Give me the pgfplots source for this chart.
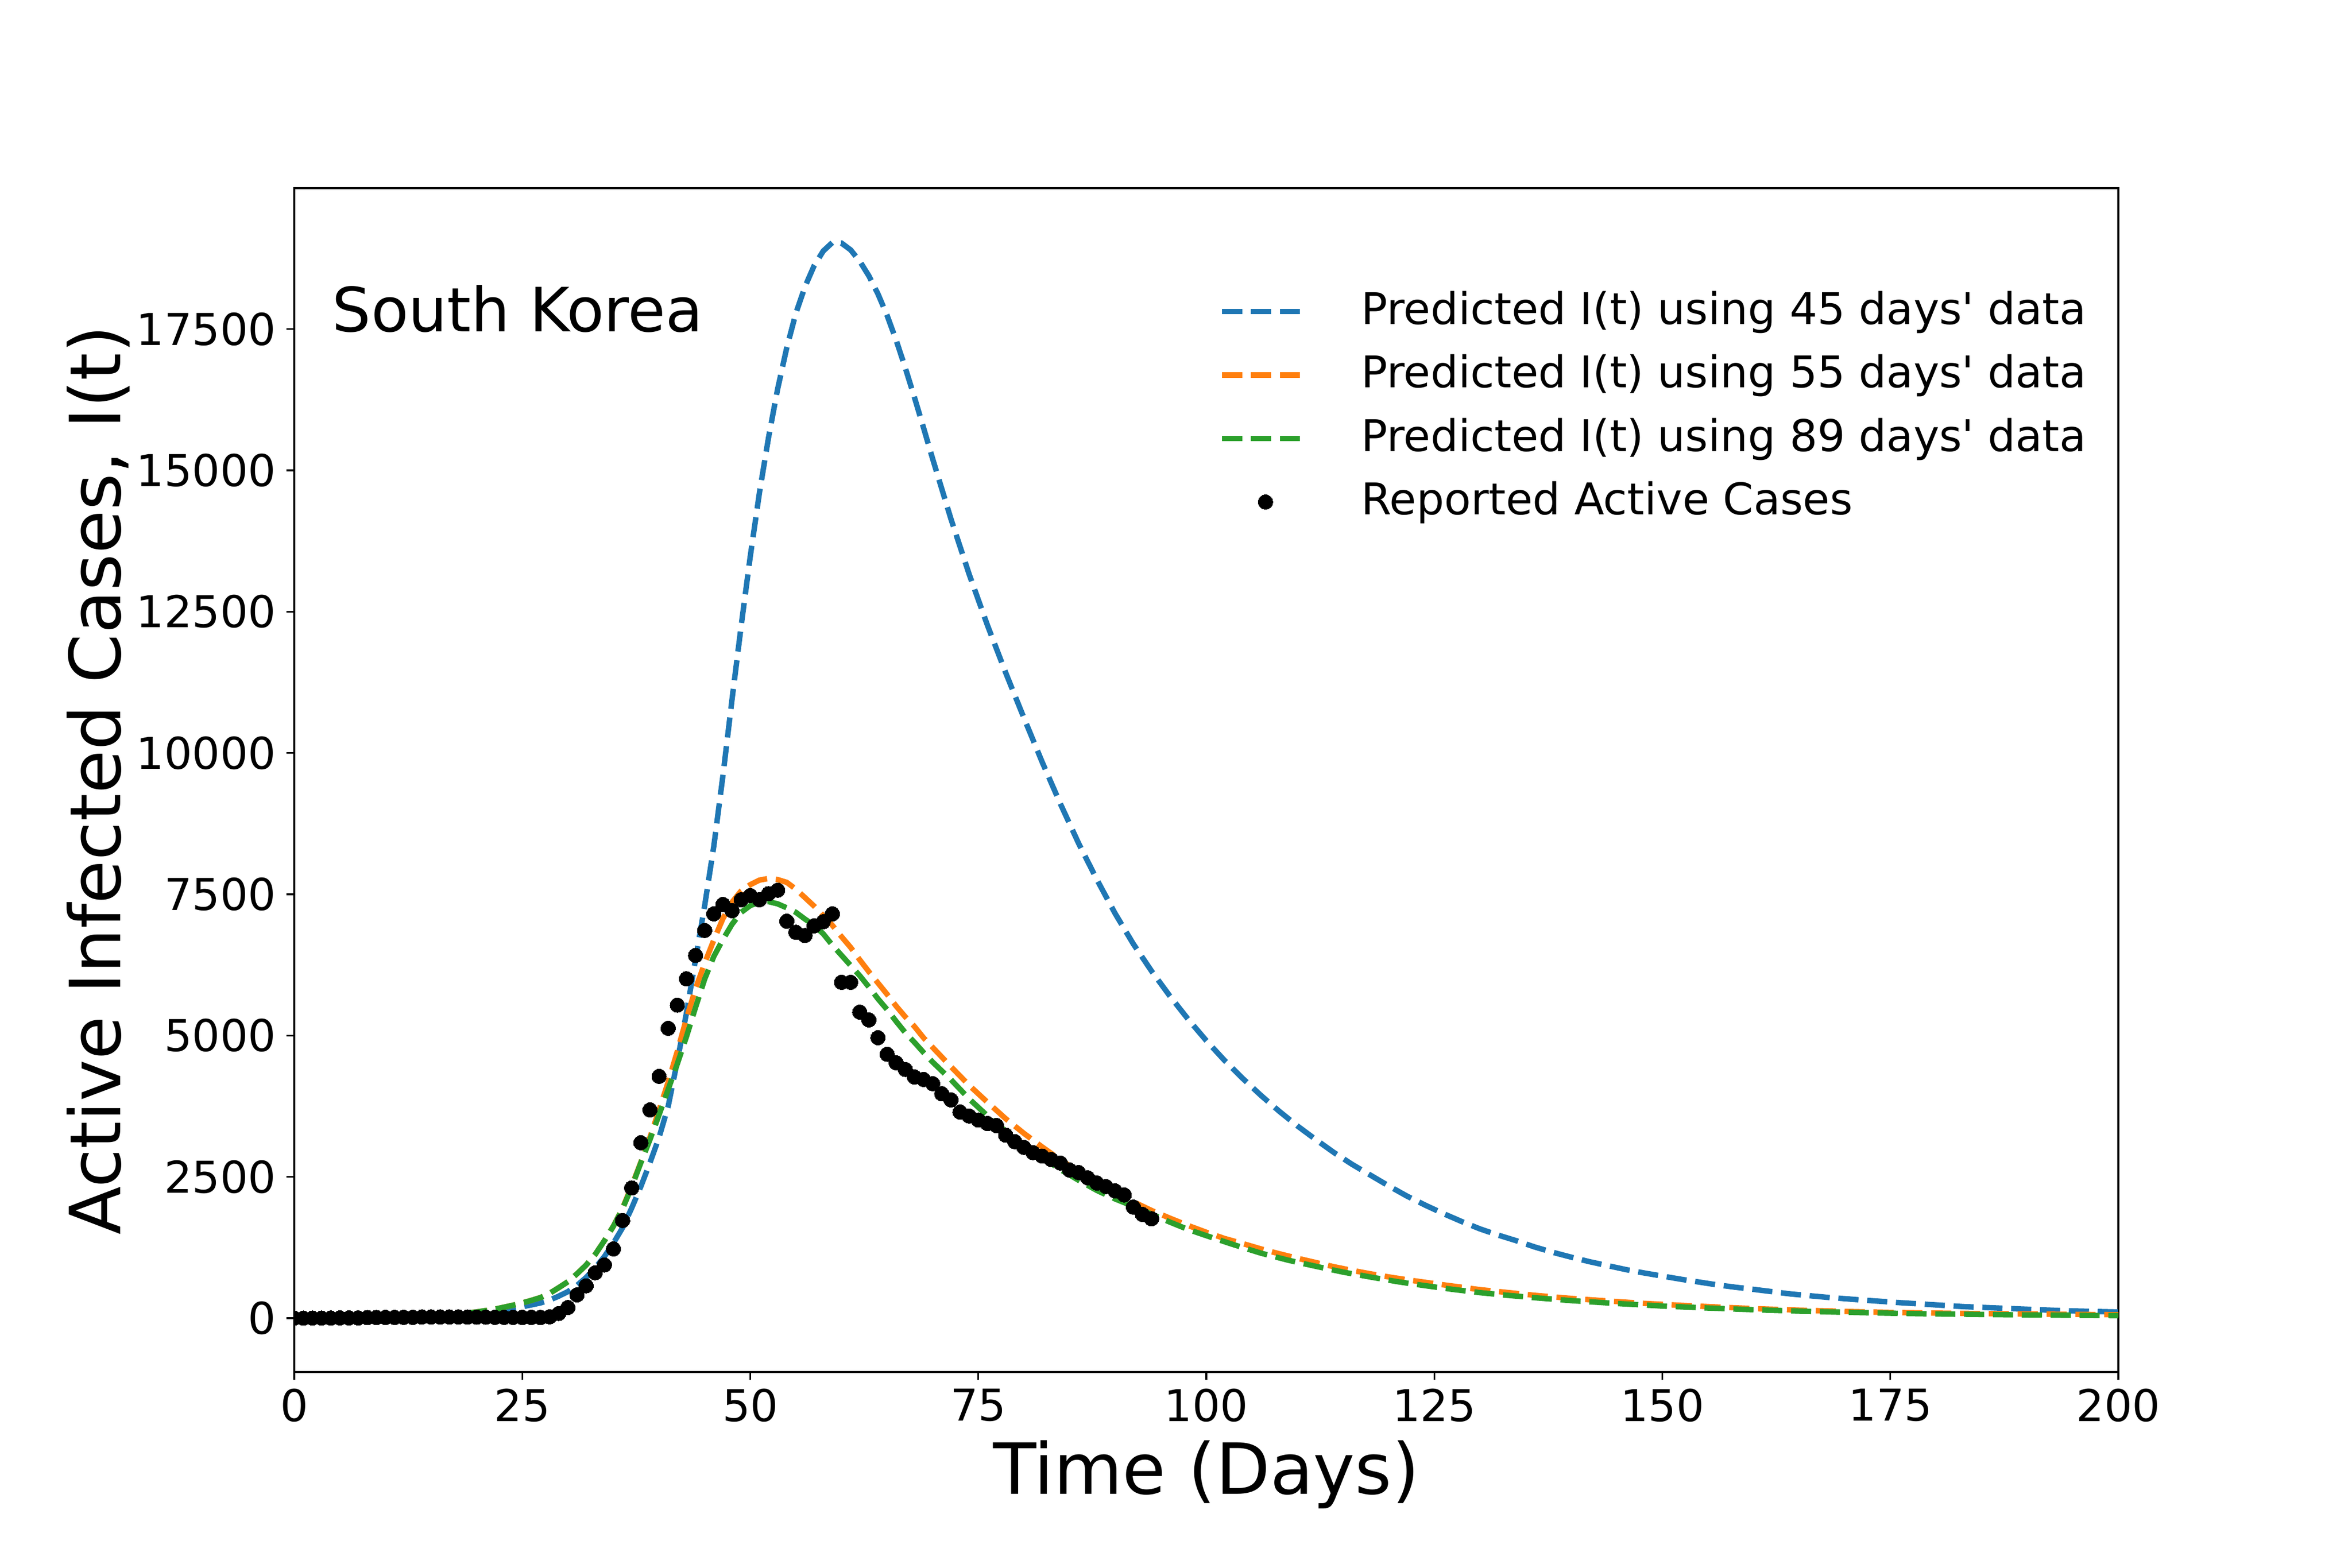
\documentclass[border=0pt]{standalone}
\usepackage{fontspec}
\setmainfont{DejaVu Sans}
\usepackage{pgfplots}
\pgfplotsset{compat=1.18}
\definecolor{c0}{HTML}{1F77B4}
\definecolor{c1}{HTML}{FF7F0E}
\definecolor{c2}{HTML}{2CA02C}

\pgfplotsset{
  legend image code/.code={\draw[#1] (0pt,0pt) -- (14.9pt,0pt);},
  dotlegend/.style={legend image code/.code={\draw[##1, mark repeat=2, mark phase=2] plot coordinates {(0pt,0pt) (8.3pt,0pt) (14.9pt,0pt)};}},
}

\pgfplotstableread{
x y
0 2
5 5
10 12
15 30
20 80
22 120
24 175
25 203
26 235
27 270
28 320
29 390
30 470
31 580
32 720
33 890
34 1090
35 1330
36 1600
37 1950
38 2330
39 2750
40 3200
41 3750
42 4550
43 5400
44 6350
45 7300
46 8350
47 9600
48 10950
49 12250
50 13480
51 14600
52 15580
53 16440
54 17170
55 17780
56 18250
57 18620
58 18880
59 19030
60 19020
61 18900
62 18700
63 18440
64 18120
65 17740
66 17300
67 16810
68 16290
69 15750
70 15200
71 14670
72 14140
73 13650
74 13160
75 12710
76 12260
78 11420
80 10620
82 9840
84 9100
86 8400
88 7760
90 7160
92 6620
94 6140
96 5700
98 5290
100 4910
102 4560
104 4240
106 3940
108 3660
110 3400
112 3160
114 2930
116 2720
118 2530
120 2340
122 2160
124 2000
126 1850
128 1710
130 1580
132 1470
134 1370
136 1260
138 1165
140 1080
142 1000
144 930
146 860
148 800
150 745
152 690
154 640
156 590
158 548
160 510
162 470
164 430
166 400
168 370
170 345
172 320
174 298
176 275
178 255
180 235
183 205
186 185
189 165
192 145
195 128
200 110
}\bluedata

\pgfplotstableread{
x y
0 1
5 4
10 12
15 40
18 75
20 110
22 160
24 230
25 270
26 315
27 365
28 440
29 540
30 645
31 785
32 940
33 1130
34 1370
35 1630
36 1950
37 2340
38 2760
39 3200
40 3680
41 4180
42 4720
43 5300
44 5830
45 6280
46 6690
47 7070
48 7360
49 7560
50 7670
51 7750
52 7780
53 7760
54 7710
55 7590
56 7440
57 7290
58 7120
59 6950
60 6750
61 6560
62 6340
63 6130
64 5930
65 5730
66 5520
67 5330
68 5160
69 4960
70 4790
72 4450
74 4120
76 3820
78 3530
80 3270
82 3030
84 2800
86 2600
88 2400
90 2230
92 2060
94 1905
96 1770
98 1640
100 1520
102 1410
104 1320
106 1225
108 1140
110 1060
112 985
114 910
116 845
118 785
120 730
122 680
124 635
126 590
128 548
130 505
133 455
136 405
140 350
144 305
148 262
152 228
156 198
160 170
165 142
170 120
175 102
180 90
190 74
200 62
}\orangedata

\pgfplotstableread{
x y
0 1
5 4
10 12
15 40
18 75
20 110
22 160
24 230
25 270
26 315
27 365
28 440
29 540
30 645
31 785
32 940
33 1130
34 1370
35 1630
36 1940
37 2320
38 2750
39 3160
40 3600
41 4050
42 4500
43 4980
44 5500
45 6000
46 6400
47 6700
48 6970
49 7180
50 7300
51 7360
52 7370
53 7330
54 7260
55 7180
56 7060
57 6950
58 6800
59 6600
60 6420
61 6240
62 6060
63 5860
64 5650
65 5460
66 5250
67 5050
68 4880
69 4700
70 4530
72 4220
74 3880
76 3580
78 3310
80 3070
82 2840
84 2630
86 2440
88 2260
90 2110
92 1980
94 1840
96 1700
98 1570
100 1460
103 1300
106 1150
109 1025
112 918
115 815
118 728
121 645
124 575
127 510
130 452
133 405
136 362
140 311
145 260
150 215
155 180
160 150
165 125
170 105
175 88
180 75
190 58
200 45
}\greendata

\pgfplotstableread{
x y
0 1
1 1
2 2
3 2
4 3
5 4
6 4
7 4
8 11
9 11
10 14
11 14
12 15
13 15
14 21
15 21
16 21
17 21
18 21
19 20
20 19
21 19
22 16
23 15
24 14
25 13
26 13
27 12
28 25
29 83
30 188
31 413
32 573
33 804
34 943
35 1226
36 1728
37 2304
38 3105
39 3685
40 4279
41 5129
42 5539
43 6004
44 6418
45 6860
46 7153
47 7320
48 7209
49 7403
50 7477
51 7403
52 7510
53 7572
54 7024
55 6827
56 6771
57 6941
58 7014
59 7153
60 5943
61 5943
62 5416
63 5277
64 4963
65 4670
66 4519
67 4401
68 4267
69 4224
70 4150
71 3970
72 3863
73 3647
74 3577
75 3506
76 3444
77 3407
78 3238
79 3124
80 3023
81 2930
82 2868
83 2807
84 2745
85 2622
86 2576
87 2483
88 2391
89 2329
90 2252
91 2181
92 1966
93 1836
94 1759
}\reporteddata

\begin{document}
\begin{tikzpicture}
\begin{axis}[
  width=349pt, height=226.5pt, scale only axis,
  xmin=0, xmax=200, ymin=-952, ymax=19992,
  scaled x ticks=false, scaled y ticks=false,
  axis line style={line width=0.33pt},
  xtick={0,25,...,200},
  xticklabels={0,25,50,75,100,125,150,175,200},
  ytick={0,2500,5000,7500,10000,12500,15000,17500},
  yticklabels={0,2500,5000,7500,10000,12500,15000,17500},
  tick align=outside, xtick pos=bottom, ytick pos=left,
  major tick length=1.46pt,
  tick style={black, line width=0.33pt},
  ticklabel style={font=\fontsize{8.4}{10}\selectfont, inner sep=0pt},
  xticklabel style={yshift=-1.6pt},
  yticklabel style={xshift=-1.84pt},
  xlabel={Time (Days)},
  ylabel={Active Infected Cases, I(t)},
  label style={font=\fontsize{13.5}{16}\selectfont},
  xlabel style={at={(axis description cs:0.5,-0.1029)}, anchor=base, inner sep=0pt},
  ylabel style={at={(axis description cs:-0.0954,0.5)}, anchor=base, inner sep=0pt},
  legend style={draw=none, fill=none, at={(axis description cs:0.498,0.9228)}, anchor=north west,
    font=\fontsize{8.35}{10}\selectfont, row sep=4.3pt, column sep=11.2pt, nodes={inner sep=0pt}},
  legend cell align=left,
  clip marker paths=true,
]
\addplot[c0, line width=1.04pt, dash pattern=on 3.85pt off 1.67pt] table[x=x,y=y] {\bluedata};
\addlegendentry{Predicted I(t) using 45 days\textquotesingle\ data}
\addplot[c1, line width=1.04pt, dash pattern=on 3.85pt off 1.67pt] table[x=x,y=y] {\orangedata};
\addlegendentry{Predicted I(t) using 55 days\textquotesingle\ data}
\addplot[c2, line width=1.04pt, dash pattern=on 3.85pt off 1.67pt] table[x=x,y=y] {\greendata};
\addlegendentry{Predicted I(t) using 89 days\textquotesingle\ data}
\addplot[only marks, mark=*, mark size=1.4pt, black, mark options={fill=black, draw=black, line width=0pt}, dotlegend]
  table[x=x,y=y] {\reporteddata};
\addlegendentry{Reported Active Cases}
\node[anchor=base west, inner sep=0pt, font=\fontsize{11.7}{14}\selectfont] at (axis description cs:0.0203,0.879) {South Korea};
\end{axis}
\pgfresetboundingbox
\path ([shift={(-56.3pt,-37.5pt)}]current axis.south west) rectangle ([shift={(44.7pt,36pt)}]current axis.north east);
\end{tikzpicture}
\end{document}
